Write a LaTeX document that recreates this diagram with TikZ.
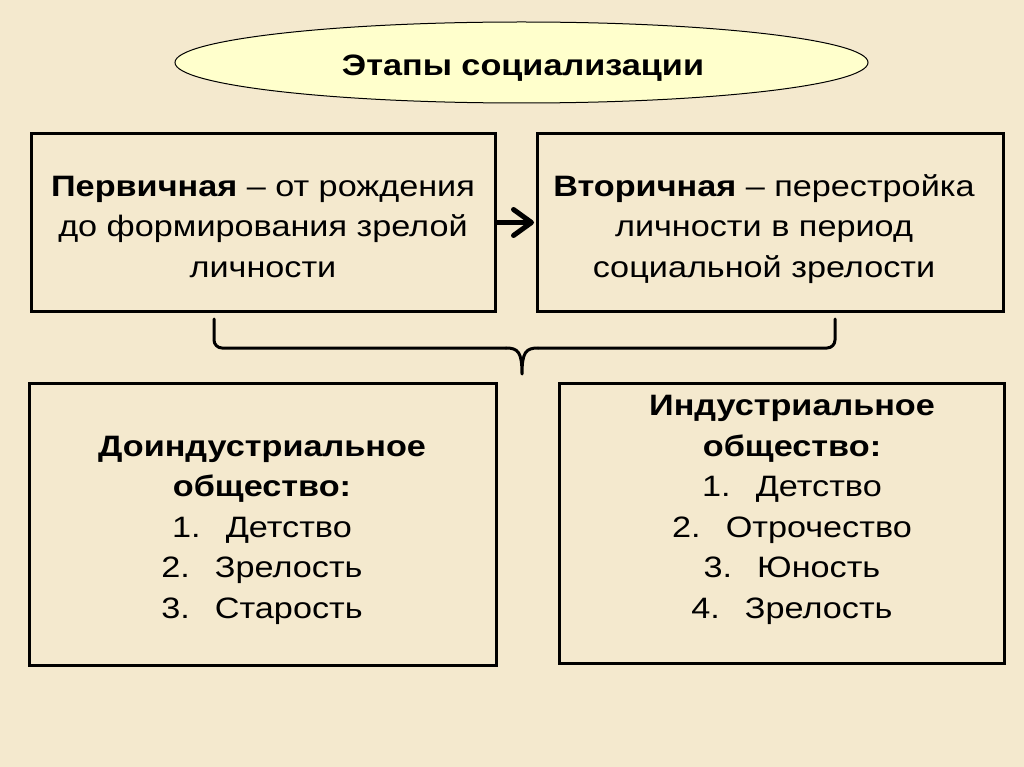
\documentclass[tikz,border=0pt]{standalone}
\usepackage{fontspec}
\setmainfont{Liberation Sans}[FakeStretch=1.16]
\usetikzlibrary{arrows.meta,shapes.geometric}
\definecolor{bg}{HTML}{F4E9CE}
\definecolor{ellfill}{HTML}{FFFFCC}
\begin{document}
\begin{tikzpicture}[x=1pt,y=-1pt,
  box/.style={draw=black,line width=3pt,inner sep=0pt},
  txt/.style={align=center,font=\fontsize{29.5}{40.5}\selectfont,inner sep=0pt,anchor=base},
  bracepath/.style={line width=3pt,line cap=round,line join=round}]
\fill[bg] (0,0) rectangle (1024,767);
\useasboundingbox (0,0) rectangle (1024,767);
% title ellipse
\node[draw=black,line width=1pt,fill=ellfill,ellipse,minimum width=693pt,minimum height=81pt,inner sep=0pt] (title) at (521.5,62.5) {};
\node[txt,font=\fontsize{29.5}{34}\selectfont\bfseries] (tt) at (523,76) {Этапы социализации};
% boxes
\node[box,minimum width=464pt,minimum height=177pt] (b1) at (263,222.5) {};
\node[box,minimum width=466pt,minimum height=177pt] (b2) at (770,222.5) {};
\node[box,minimum width=467pt,minimum height=282pt] (b3) at (262.5,524) {};
\node[box,minimum width=445pt,minimum height=280pt] (b4) at (782,523) {};
% texts
\node[txt] (t1) at (263,277) {\textbf{Первичная} – от рождения\\до формирования зрелой\\личности};
\node[txt] (t2) at (764,277) {\textbf{Вторичная} – перестройка\\личности в период\\социальной зрелости};
\node[txt] (t3) at (262,618) {\textbf{Доиндустриальное}\\\textbf{общество:}\\1.\hspace{0.85em}Детство\\2.\hspace{0.85em}Зрелость\\3.\hspace{0.85em}Старость};
\node[txt] (t4) at (792,618) {\textbf{Индустриальное}\\\textbf{общество:}\\1.\hspace{0.85em}Детство\\2.\hspace{0.85em}Отрочество\\3.\hspace{0.85em}Юность\\4.\hspace{0.85em}Зрелость};
% arrow
\draw[line width=5pt,shorten >=1.5pt,-{Straight Barb[length=18pt,width=26pt,line cap=round,line join=round]}] (b1.east) -- (b2.west);
% brace
\coordinate (bl) at (214,319);
\coordinate (br) at (835,319);
\coordinate (tip) at (522,374);
\draw[bracepath,rounded corners=8pt] (bl) -- (214,348) -- (506,348);
\draw[bracepath] (506,348) .. controls (518,348) and (522,352) .. (tip) .. controls (522,352) and (526,348) .. (538,348);
\draw[bracepath,rounded corners=8pt] (538,348) -- (835,348) -- (br);
\end{tikzpicture}
\end{document}
